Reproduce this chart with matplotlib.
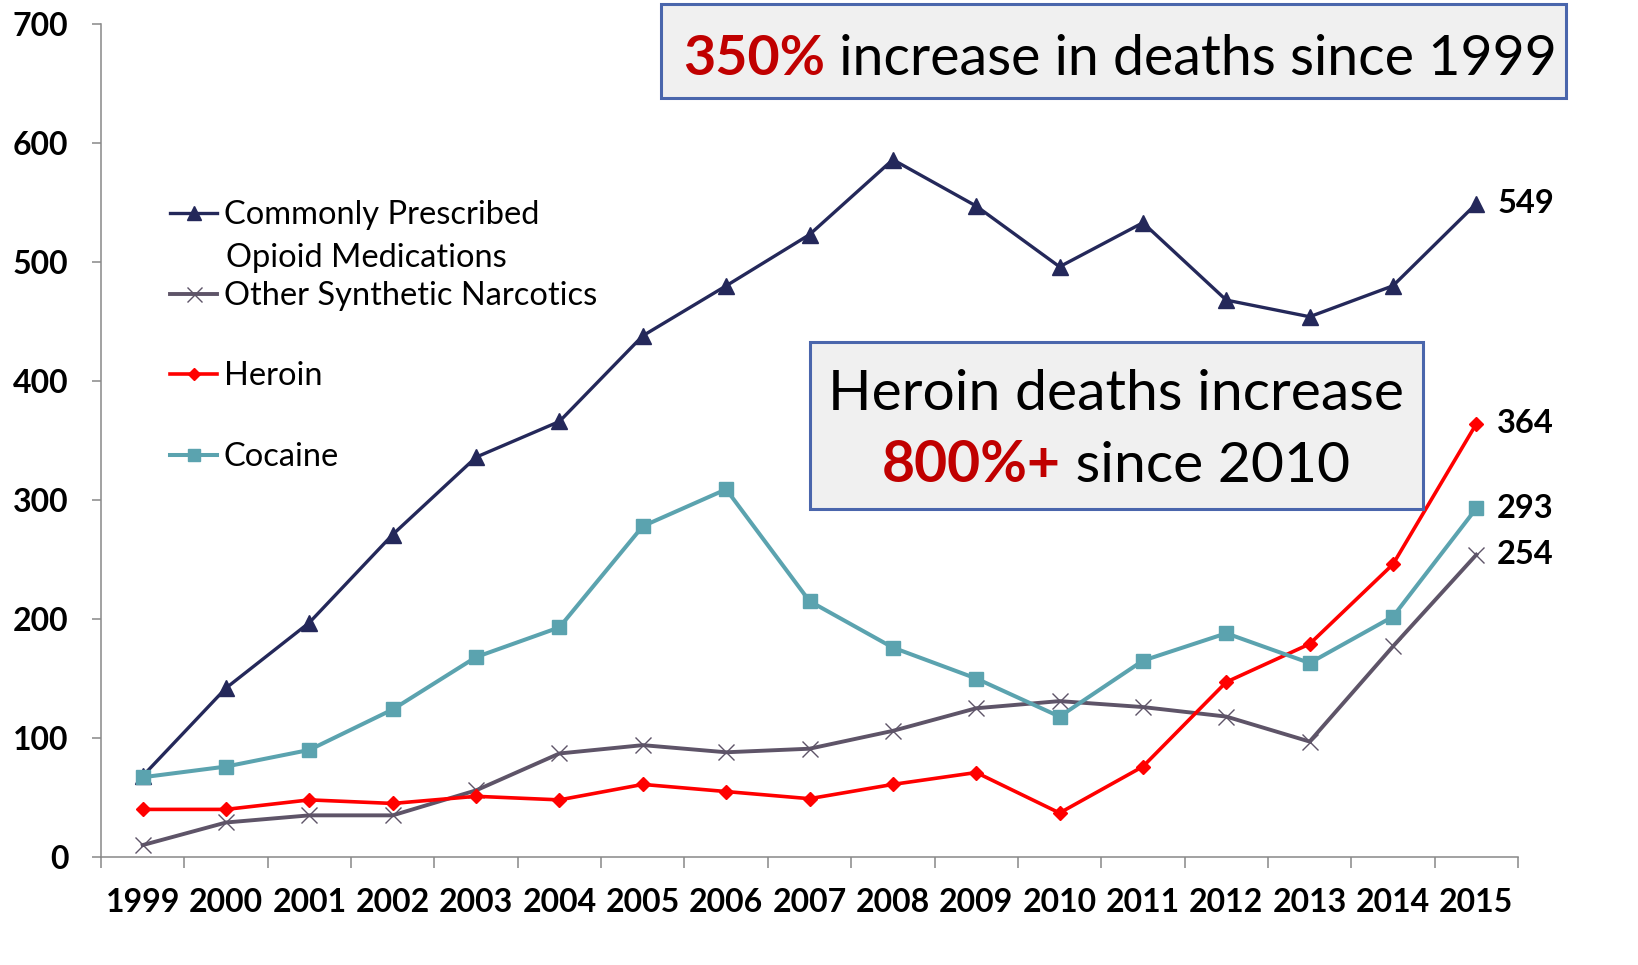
import matplotlib; matplotlib.use("Agg")
import matplotlib.pyplot as plt
from matplotlib.patches import Rectangle

years = [str(y) for y in range(1999, 2016)]
prescribed = [68, 142, 197, 271, 336, 366, 438, 480, 523, 586, 547, 496, 533, 468, 454, 480, 549]
synthetic = [10, 29, 35, 35, 56, 87, 94, 88, 91, 106, 125, 131, 126, 118, 97, 177, 254]
heroin = [40, 40, 48, 45, 51, 48, 61, 55, 49, 61, 71, 37, 76, 147, 179, 246, 364]
cocaine = [67, 76, 90, 124, 168, 193, 278, 309, 215, 176, 150, 118, 165, 188, 163, 202, 293]
labels = ["Commonly Prescribed", "Other Synthetic Narcotics", "Heroin", "Cocaine"]
end_labels = [549, 254, 364, 293]

NAVY, GREY, RED, TEAL = "#24285A", "#5E5468", "#FF0000", "#5BA3AF"
plt.rcParams["font.family"] = ["Lato", "DejaVu Sans"]

W, H = 1638, 965
fig = plt.figure(figsize=(W/100, H/100), dpi=100)
ax = fig.add_axes([101/W, 1-857/H, (1518-101)/W, (857-24)/H])
x = list(range(len(years)))

l1, = ax.plot(x, prescribed, "-^", color=NAVY, lw=2.4, ms=11, label=labels[0])
l2, = ax.plot(x, synthetic, "-x", color=GREY, lw=2.8, ms=12, mew=1.0, label=labels[1])
l3, = ax.plot(x, heroin, "-D", color=RED, lw=2.6, ms=7, label=labels[2])
l4, = ax.plot(x, cocaine, "-s", color=TEAL, lw=2.9, ms=10, label=labels[3])

for v, yv in zip(end_labels, [prescribed[-1], synthetic[-1], heroin[-1], cocaine[-1]]):
    ax.annotate(str(v), xy=(x[-1], yv), xytext=(15, 0), textcoords="offset points",
                ha="left", va="center", fontsize=23.5, fontweight="bold", annotation_clip=False)

ax.set_xlim(-0.5, len(years) - 0.5)
ax.set_ylim(0, 700)
ax.set_yticks(range(0, 701, 100))
ax.set_xticks([i - 0.5 for i in range(len(years) + 1)])
ax.set_xticklabels([])
ax.set_xticks(x, minor=True)
ax.set_xticklabels(years, minor=True)
ax.tick_params(axis="x", which="major", length=8, width=1.1, color="#888888")
ax.tick_params(axis="x", which="minor", length=0, pad=22, labelsize=23)
ax.tick_params(axis="y", length=6.5, width=1.1, color="#888888", pad=17, labelsize=23)
for lab in ax.get_xticklabels(minor=True) + ax.get_yticklabels():
    lab.set_fontweight("bold")
for s in ["top", "right"]:
    ax.spines[s].set_visible(False)
for s in ["left", "bottom"]:
    ax.spines[s].set_color("#888888"); ax.spines[s].set_linewidth(1.1)

# legend, one entry per row as in the original layout
leg_y = [1-215/H, 1-296/H, 1-376/H, 1-457/H]
for h, lab, yy in zip([l1, l2, l3, l4], labels, leg_y):
    fig.legend([h], [lab], loc="center left", bbox_to_anchor=(170/W, yy), frameon=False,
               fontsize=23.5, handlelength=1.45, handletextpad=0.2, borderpad=0,
               borderaxespad=0, numpoints=1, markerscale=0.9)
fig.text(226/W, 1-258/H, "Opioid Medications", fontsize=23.5, va="center", ha="left")

# callout boxes
fig.patches.append(Rectangle((661/W, 1-98/H), (1566-661)/W, 94/H, transform=fig.transFigure,
                             facecolor="#F0F0F0", edgecolor="#4A66AC", lw=2.2))
fig.patches.append(Rectangle((810/W, 1-509/H), (1423-810)/W, 167/H, transform=fig.transFigure,
                             facecolor="#F0F0F0", edgecolor="#4A66AC", lw=2.2))

t1 = fig.text(683/W, 1-75/H, "350%", fontsize=40, fontweight="bold", color="#C00000", va="baseline")
fig.canvas.draw()
r = fig.canvas.get_renderer()
bb = t1.get_window_extent(r)
fig.text(bb.x1/W, 1-75/H, " increase in deaths since 1999", fontsize=40, va="baseline")

fig.text(1116/W, 1-410/H, "Heroin deaths increase", fontsize=41, ha="center", va="baseline")
a = fig.text(0, 1-482/H, "800%+", fontsize=41, fontweight="bold", color="#C00000", va="baseline")
b = fig.text(0, 1-482/H, " since 2010", fontsize=41, va="baseline")
wa = a.get_window_extent(r).width; wb = b.get_window_extent(r).width
x0 = 1116 - (wa + wb) / 2
a.set_x(x0/W); b.set_x((x0 + wa)/W)

fig.savefig("out.png", dpi=100)
